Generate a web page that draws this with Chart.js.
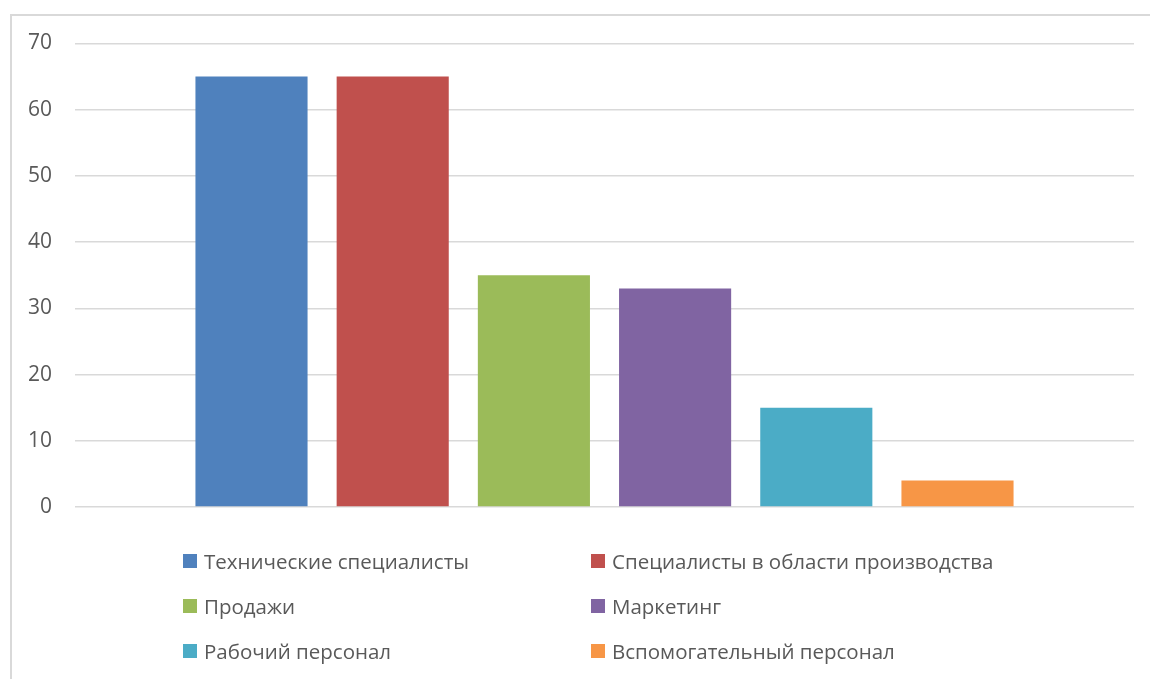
<!DOCTYPE html>
<html>
<head>
<meta charset="utf-8">
<script src="https://cdn.jsdelivr.net/npm/chart.js@4.4.1/dist/chart.umd.min.js"></script>
<style>
  html, body { margin: 0; padding: 0; background: #fff; width: 1150px; height: 679px; overflow: hidden; }
  #frame { position: absolute; left: 10px; top: 14px; width: 1200px; height: 800px; border: 2px solid #d9d9d9; box-sizing: border-box; }
  #wrap { position: absolute; left: 0; top: 0; width: 1150px; height: 679px; }
  #legend { position: absolute; left: 0; top: 0; width: 1150px; height: 679px; pointer-events: none; }
  .item { position: absolute; display: flex; align-items: center; font-family: "Open Sans", "Noto Sans", sans-serif; font-size: 20.5px; color: #595959; white-space: nowrap; height: 30px; }
  .sw { width: 14px; height: 14px; margin-right: 7px; flex: none; }
</style>
</head>
<body>
<div id="frame"></div>
<div id="wrap"><canvas id="c" width="1150" height="679"></canvas></div>
<div id="legend"></div>
<script>
const categories = [''];
const seriesNames = ['Технические специалисты', 'Специалисты в области производства', 'Продажи', 'Маркетинг', 'Рабочий персонал', 'Вспомогательный персонал'];
const seriesValues = [65, 65, 35, 33, 15, 4];
const seriesColors = ['#4F81BD', '#C0504D', '#9BBB59', '#8064A2', '#4BACC6', '#F79646'];
const yTicks = [0, 10, 20, 30, 40, 50, 60, 70];

const datasets = seriesNames.map((n, i) => ({
  label: n,
  data: [seriesValues[i]],
  backgroundColor: seriesColors[i],
  borderWidth: 0,
  categoryPercentage: 0.8,
  barPercentage: 0.794
}));

new Chart(document.getElementById('c'), {
  type: 'bar',
  data: { labels: categories, datasets },
  options: {
    responsive: false,
    animation: false,
    layout: { padding: { top: 43.5, bottom: 172, right: 16, left: 0 } },
    plugins: { legend: { display: false }, tooltip: { enabled: false } },
    scales: {
      x: { display: false, grid: { display: false } },
      y: {
        min: 0, max: 70,
        afterBuildTicks: s => { s.ticks = yTicks.map(v => ({ value: v })); },
        afterFit: s => { s.width = 75; },
        border: { display: false },
        grid: { color: '#d9d9d9', lineWidth: 1.5, drawTicks: false },
        ticks: { padding: 23, color: '#595959', font: { family: 'Open Sans', size: 21 } }
      }
    }
  }
});

const leg = document.getElementById('legend');
const colX = [183, 591];
const rowY = [561, 606, 651];
seriesNames.forEach((n, i) => {
  const d = document.createElement('div');
  d.className = 'item';
  d.style.left = colX[i % 2] + 'px';
  d.style.top = (rowY[Math.floor(i / 2)] - 15) + 'px';
  d.innerHTML = '<span class="sw" style="background:' + seriesColors[i] + '"></span><span>' + n + '</span>';
  leg.appendChild(d);
});
</script>
</body>
</html>
